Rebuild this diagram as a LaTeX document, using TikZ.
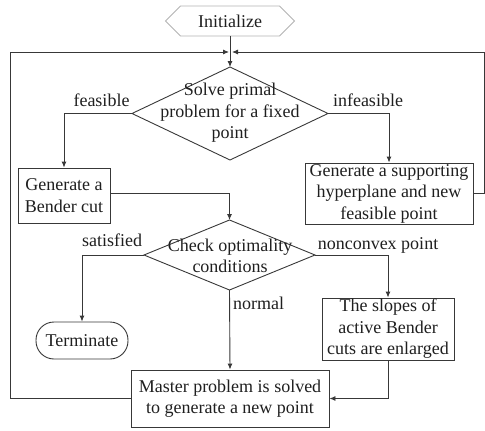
\documentclass[tikz,border=0pt]{standalone}
\usepackage{fontspec}
\setmainfont{Liberation Serif}
\usetikzlibrary{arrows.meta,shapes.geometric,shapes.symbols}
\definecolor{ln}{gray}{0.22}
\definecolor{tx}{gray}{0.12}
\begin{document}
\begin{tikzpicture}[x=1pt,y=-1pt,
  every node/.style={font=\fontsize{18}{21.5}\selectfont, text=tx},
  box/.style={draw=ln, line width=0.9pt, rectangle, inner sep=0pt, align=center},
  dia/.style={draw=ln, line width=0.9pt, diamond, inner sep=0pt, outer sep=0pt},
  lbl/.style={align=center, inner sep=0pt},
  conn/.style={draw=ln, line width=0.9pt},
  arr/.style={conn, -{Latex[length=6pt,width=5pt]}}]
\useasboundingbox (0,0) rectangle (485,431);
% nodes
\node[signal, signal to=west and east, draw=gray!60, line width=0.8pt, minimum width=129pt, minimum height=30pt, inner sep=0pt] (init) at (230,21) {Initialize};
\node[dia, minimum width=196pt, minimum height=93pt] (d1) at (230,113.5) {};
\node[lbl] (d1t) at (230,113) {Solve primal\\problem for a fixed\\point};
\node[box, minimum width=92pt, minimum height=55pt] (bender) at (64,195.5) {Generate a\\Bender cut};
\node[box, minimum width=168pt, minimum height=61pt] (sup) at (389,193.5) {Generate a supporting\\hyperplane and new\\feasible point};
\node[dia, minimum width=171pt, minimum height=70pt] (d2) at (229.5,255) {};
\node[lbl] (d2t) at (230,256) {Check optimality\\conditions};
\node[draw=ln, line width=0.9pt, rectangle, rounded corners=18pt, minimum width=92pt, minimum height=37pt, inner sep=0pt] (term) at (82,340.5) {Terminate};
\node[box, minimum width=132pt, minimum height=62pt] (slopes) at (388,329) {The slopes of\\active Bender\\cuts are enlarged};
\node[box, minimum width=198pt, minimum height=57pt] (master) at (230,398.5) {Master problem is solved\\to generate a new point};
% labels
\node[lbl] (lfeas) at (101.5,100) {feasible};
\node[lbl] (linf) at (368,100) {infeasible};
\node[lbl] (lsat) at (112,240) {satisfied};
\node[lbl] (lnon) at (378,245) {nonconvex point};
\node[lbl, anchor=west] (lnorm) at (233,303) {normal};
% junction coordinates
\coordinate (jl) at (229,52);
\coordinate (jr) at (232,52);
\coordinate (jm) at (230,52);
% connectors
\draw[arr] (init.south) -- (d1.north);
\draw[arr] (d1.west) -| (bender.north);
\draw[arr] (d1.east) -| (sup.north);
\draw[arr] (bender.east |- 0,193) -| (d2.north);
\draw[arr] (sup.east) -- (484,193.5) -- (484,52) -- (jr);
\draw[arr] (d2.west) -| (term.north);
\draw[arr] (d2.east) -| (slopes.north);
\draw[arr] (d2.south) -- (master.north);
\draw[arr] (slopes.south) |- (master.east);
\draw[arr] (master.west) -- (10,398.5) -- (10,52) -- (jl);
\end{tikzpicture}
\end{document}
